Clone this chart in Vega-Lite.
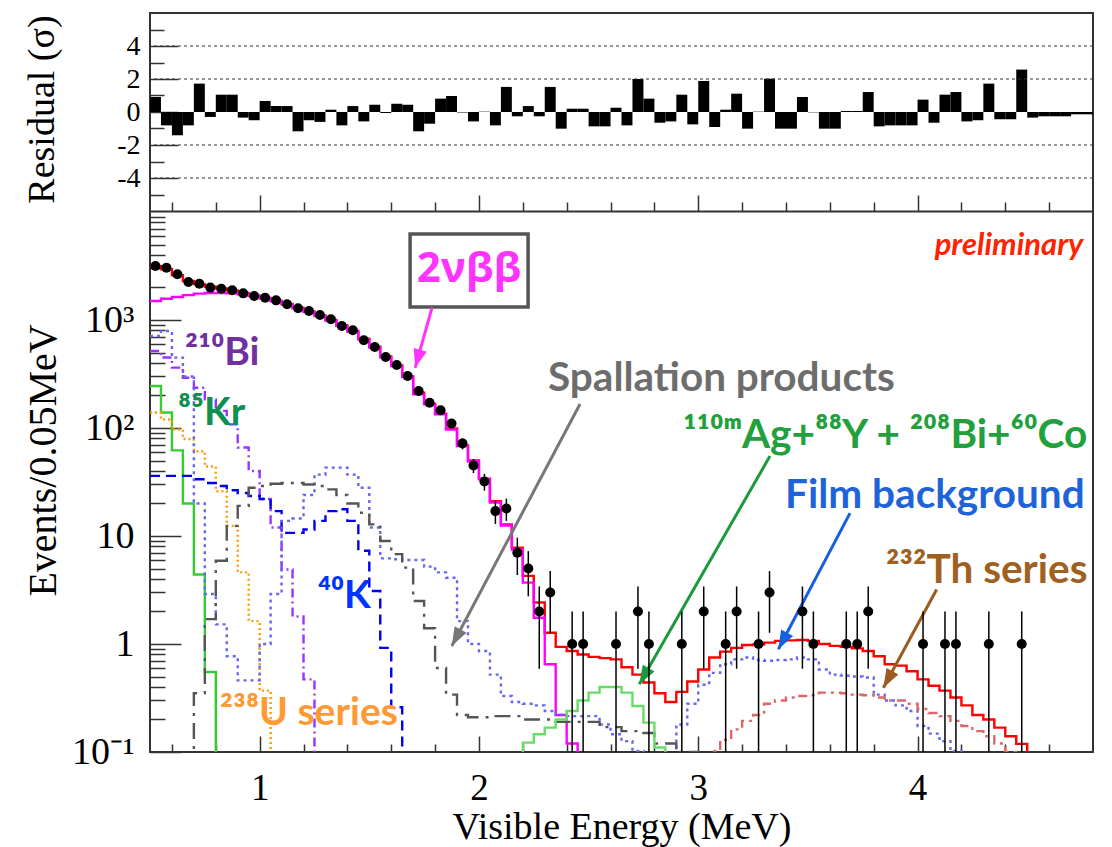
{
  "$schema": "https://vega.github.io/schema/vega-lite/v6.json",
  "width": 943,
  "height": 739,
  "autosize": {"type": "none"},
  "padding": {"left": 150, "top": 13, "right": 19, "bottom": 95},
  "background": "white",
  "config": {
    "font": "Liberation Serif",
    "view": {"stroke": "#333333", "strokeWidth": 2},
    "axis": {"labelFont": "Liberation Serif", "titleFont": "Liberation Serif", "labelColor": "black", "titleColor": "black", "titleFontWeight": "normal", "tickColor": "#333333", "tickWidth": 1.5, "grid": false}
  },
  "datasets": {
    "hist": [
      {"s":"tot","e":0.5,"v":3150},{"s":"tot","e":0.55,"v":2950},{"s":"tot","e":0.6,"v":2600},{"s":"tot","e":0.65,"v":2300},{"s":"tot","e":0.7,"v":2150},{"s":"tot","e":0.75,"v":2030},{"s":"tot","e":0.8,"v":1960},{"s":"tot","e":0.85,"v":1880},{"s":"tot","e":0.9,"v":1780},{"s":"tot","e":0.95,"v":1680},{"s":"tot","e":1.0,"v":1600},{"s":"tot","e":1.05,"v":1510},{"s":"tot","e":1.1,"v":1410},{"s":"tot","e":1.15,"v":1300},{"s":"tot","e":1.2,"v":1200},{"s":"tot","e":1.25,"v":1100},{"s":"tot","e":1.3,"v":1000},{"s":"tot","e":1.35,"v":890},{"s":"tot","e":1.4,"v":790},{"s":"tot","e":1.45,"v":670},{"s":"tot","e":1.5,"v":565},{"s":"tot","e":1.55,"v":460},{"s":"tot","e":1.6,"v":380},{"s":"tot","e":1.65,"v":300},{"s":"tot","e":1.7,"v":212},{"s":"tot","e":1.75,"v":168},{"s":"tot","e":1.8,"v":136},{"s":"tot","e":1.85,"v":99},{"s":"tot","e":1.9,"v":69},{"s":"tot","e":1.95,"v":50},{"s":"tot","e":2.0,"v":34},{"s":"tot","e":2.05,"v":21},{"s":"tot","e":2.1,"v":12.8},{"s":"tot","e":2.15,"v":7.8},{"s":"tot","e":2.2,"v":4.27},{"s":"tot","e":2.25,"v":2.42},{"s":"tot","e":2.3,"v":1.27},{"s":"tot","e":2.35,"v":0.94},{"s":"tot","e":2.4,"v":0.86},{"s":"tot","e":2.45,"v":0.8},{"s":"tot","e":2.5,"v":0.76},{"s":"tot","e":2.55,"v":0.74},{"s":"tot","e":2.6,"v":0.72},{"s":"tot","e":2.65,"v":0.61},{"s":"tot","e":2.7,"v":0.52},{"s":"tot","e":2.75,"v":0.44},{"s":"tot","e":2.8,"v":0.35},{"s":"tot","e":2.85,"v":0.29},{"s":"tot","e":2.9,"v":0.36},{"s":"tot","e":2.95,"v":0.45},{"s":"tot","e":3.0,"v":0.58},{"s":"tot","e":3.05,"v":0.75},{"s":"tot","e":3.1,"v":0.85},{"s":"tot","e":3.15,"v":0.92},{"s":"tot","e":3.2,"v":0.98},{"s":"tot","e":3.25,"v":0.99},{"s":"tot","e":3.3,"v":1.03},{"s":"tot","e":3.35,"v":1.07},{"s":"tot","e":3.4,"v":1.08},{"s":"tot","e":3.45,"v":1.09},{"s":"tot","e":3.5,"v":1.07},{"s":"tot","e":3.55,"v":1.0},{"s":"tot","e":3.6,"v":0.96},{"s":"tot","e":3.65,"v":0.94},{"s":"tot","e":3.7,"v":0.91},{"s":"tot","e":3.75,"v":0.86},{"s":"tot","e":3.8,"v":0.77},{"s":"tot","e":3.85,"v":0.65},{"s":"tot","e":3.9,"v":0.63},{"s":"tot","e":3.95,"v":0.56},{"s":"tot","e":4.0,"v":0.47},{"s":"tot","e":4.05,"v":0.41},{"s":"tot","e":4.1,"v":0.37},{"s":"tot","e":4.15,"v":0.32},{"s":"tot","e":4.2,"v":0.27},{"s":"tot","e":4.25,"v":0.22},{"s":"tot","e":4.3,"v":0.2},{"s":"tot","e":4.35,"v":0.168},{"s":"tot","e":4.4,"v":0.14},{"s":"tot","e":4.45,"v":0.119},{"s":"tot","e":4.5,"v":0.01},
      {"s":"bb","e":0.5,"v":1500},{"s":"bb","e":0.55,"v":1575},{"s":"bb","e":0.6,"v":1635},{"s":"bb","e":0.65,"v":1700},{"s":"bb","e":0.7,"v":1755},{"s":"bb","e":0.75,"v":1780},{"s":"bb","e":0.8,"v":1780},{"s":"bb","e":0.85,"v":1770},{"s":"bb","e":0.9,"v":1730},{"s":"bb","e":0.95,"v":1667},{"s":"bb","e":1.0,"v":1588},{"s":"bb","e":1.05,"v":1490},{"s":"bb","e":1.1,"v":1390},{"s":"bb","e":1.15,"v":1285},{"s":"bb","e":1.2,"v":1190},{"s":"bb","e":1.25,"v":1090},{"s":"bb","e":1.3,"v":990},{"s":"bb","e":1.35,"v":880},{"s":"bb","e":1.4,"v":780},{"s":"bb","e":1.45,"v":660},{"s":"bb","e":1.5,"v":555},{"s":"bb","e":1.55,"v":452},{"s":"bb","e":1.6,"v":374},{"s":"bb","e":1.65,"v":296},{"s":"bb","e":1.7,"v":205},{"s":"bb","e":1.75,"v":166},{"s":"bb","e":1.8,"v":134},{"s":"bb","e":1.85,"v":97},{"s":"bb","e":1.9,"v":68},{"s":"bb","e":1.95,"v":49},{"s":"bb","e":2.0,"v":33.5},{"s":"bb","e":2.05,"v":20.4},{"s":"bb","e":2.1,"v":12.5},{"s":"bb","e":2.15,"v":7.5},{"s":"bb","e":2.2,"v":3.7},{"s":"bb","e":2.25,"v":1.75},{"s":"bb","e":2.3,"v":0.65},{"s":"bb","e":2.35,"v":0.22},{"s":"bb","e":2.4,"v":0.12},{"s":"bb","e":2.45,"v":0.01},
      {"s":"bi","e":0.5,"v":517},{"s":"bi","e":0.55,"v":450},{"s":"bi","e":0.6,"v":362},{"s":"bi","e":0.65,"v":292},{"s":"bi","e":0.7,"v":236},{"s":"bi","e":0.75,"v":184},{"s":"bi","e":0.8,"v":144},{"s":"bi","e":0.85,"v":108},{"s":"bi","e":0.9,"v":66},{"s":"bi","e":0.95,"v":40},{"s":"bi","e":1.0,"v":22},{"s":"bi","e":1.05,"v":12},{"s":"bi","e":1.1,"v":4.9},{"s":"bi","e":1.15,"v":1.8},{"s":"bi","e":1.2,"v":0.47},{"s":"bi","e":1.25,"v":0.01},
      {"s":"kr","e":0.5,"v":245},{"s":"kr","e":0.55,"v":139},{"s":"kr","e":0.6,"v":62},{"s":"kr","e":0.65,"v":20},{"s":"kr","e":0.7,"v":4.4},{"s":"kr","e":0.75,"v":0.55},{"s":"kr","e":0.8,"v":0.01},
      {"s":"u","e":0.5,"v":139},{"s":"u","e":0.55,"v":120},{"s":"u","e":0.6,"v":97},{"s":"u","e":0.65,"v":79},{"s":"u","e":0.7,"v":61},{"s":"u","e":0.75,"v":44},{"s":"u","e":0.8,"v":26},{"s":"u","e":0.85,"v":12.4},{"s":"u","e":0.9,"v":4.6},{"s":"u","e":0.95,"v":1.63},{"s":"u","e":1.0,"v":0.37},{"s":"u","e":1.05,"v":0.01},
      {"s":"k40","e":0.5,"v":36},{"s":"k40","e":0.55,"v":36},{"s":"k40","e":0.6,"v":36},{"s":"k40","e":0.65,"v":36},{"s":"k40","e":0.7,"v":33.5},{"s":"k40","e":0.75,"v":31},{"s":"k40","e":0.8,"v":29},{"s":"k40","e":0.85,"v":26.5},{"s":"k40","e":0.9,"v":25},{"s":"k40","e":0.95,"v":23.5},{"s":"k40","e":1.0,"v":22},{"s":"k40","e":1.05,"v":17},{"s":"k40","e":1.1,"v":10.7},{"s":"k40","e":1.15,"v":10.7},{"s":"k40","e":1.2,"v":11.5},{"s":"k40","e":1.25,"v":13.8},{"s":"k40","e":1.3,"v":17},{"s":"k40","e":1.35,"v":17.7},{"s":"k40","e":1.4,"v":13.8},{"s":"k40","e":1.45,"v":7.3},{"s":"k40","e":1.5,"v":3.1},{"s":"k40","e":1.55,"v":0.92},{"s":"k40","e":1.6,"v":0.26},{"s":"k40","e":1.65,"v":0.01},
      {"s":"film","e":0.5,"v":711},{"s":"film","e":0.55,"v":791},{"s":"film","e":0.6,"v":448},{"s":"film","e":0.65,"v":300},{"s":"film","e":0.7,"v":20},{"s":"film","e":0.75,"v":2.9},{"s":"film","e":0.8,"v":1.52},{"s":"film","e":0.85,"v":0.77},{"s":"film","e":0.9,"v":0.46},{"s":"film","e":0.95,"v":0.46},{"s":"film","e":1.0,"v":1.0},{"s":"film","e":1.05,"v":2.9},{"s":"film","e":1.1,"v":13.8},{"s":"film","e":1.15,"v":14.5},{"s":"film","e":1.2,"v":24},{"s":"film","e":1.25,"v":37},{"s":"film","e":1.3,"v":43},{"s":"film","e":1.35,"v":43},{"s":"film","e":1.4,"v":37},{"s":"film","e":1.45,"v":28},{"s":"film","e":1.5,"v":12},{"s":"film","e":1.55,"v":6.2},{"s":"film","e":1.6,"v":6.1},{"s":"film","e":1.65,"v":6.0},{"s":"film","e":1.7,"v":6.0},{"s":"film","e":1.75,"v":5.2},{"s":"film","e":1.8,"v":4.6},{"s":"film","e":1.85,"v":4.1},{"s":"film","e":1.9,"v":1.63},{"s":"film","e":1.95,"v":1.0},{"s":"film","e":2.0,"v":0.86},{"s":"film","e":2.05,"v":0.52},{"s":"film","e":2.1,"v":0.33},{"s":"film","e":2.15,"v":0.29},{"s":"film","e":2.2,"v":0.28},{"s":"film","e":2.25,"v":0.27},{"s":"film","e":2.3,"v":0.24},{"s":"film","e":2.35,"v":0.22},{"s":"film","e":2.4,"v":0.215},{"s":"film","e":2.45,"v":0.215},{"s":"film","e":2.5,"v":0.215},{"s":"film","e":2.55,"v":0.18},{"s":"film","e":2.6,"v":0.146},{"s":"film","e":2.65,"v":0.126},{"s":"film","e":2.7,"v":0.102},{"s":"film","e":2.75,"v":0.08},{"s":"film","e":2.8,"v":0.07},{"s":"film","e":2.85,"v":0.09},{"s":"film","e":2.9,"v":0.18},{"s":"film","e":2.95,"v":0.28},{"s":"film","e":3.0,"v":0.42},{"s":"film","e":3.05,"v":0.54},{"s":"film","e":3.1,"v":0.65},{"s":"film","e":3.15,"v":0.72},{"s":"film","e":3.2,"v":0.75},{"s":"film","e":3.25,"v":0.71},{"s":"film","e":3.3,"v":0.7},{"s":"film","e":3.35,"v":0.71},{"s":"film","e":3.4,"v":0.72},{"s":"film","e":3.45,"v":0.75},{"s":"film","e":3.5,"v":0.72},{"s":"film","e":3.55,"v":0.58},{"s":"film","e":3.6,"v":0.52},{"s":"film","e":3.65,"v":0.51},{"s":"film","e":3.7,"v":0.5},{"s":"film","e":3.75,"v":0.49},{"s":"film","e":3.8,"v":0.34},{"s":"film","e":3.85,"v":0.3},{"s":"film","e":3.9,"v":0.27},{"s":"film","e":3.95,"v":0.24},{"s":"film","e":4.0,"v":0.174},{"s":"film","e":4.05,"v":0.148},{"s":"film","e":4.1,"v":0.126},{"s":"film","e":4.15,"v":0.102},{"s":"film","e":4.2,"v":0.08},{"s":"film","e":4.25,"v":0.01},
      {"s":"spall","e":0.65,"v":0.01},{"s":"spall","e":0.7,"v":0.35},{"s":"spall","e":0.75,"v":1.7},{"s":"spall","e":0.8,"v":5.9},{"s":"spall","e":0.85,"v":12.4},{"s":"spall","e":0.9,"v":19},{"s":"spall","e":0.95,"v":28},{"s":"spall","e":1.0,"v":29},{"s":"spall","e":1.05,"v":30.5},{"s":"spall","e":1.1,"v":31},{"s":"spall","e":1.15,"v":31},{"s":"spall","e":1.2,"v":30},{"s":"spall","e":1.25,"v":29},{"s":"spall","e":1.3,"v":27},{"s":"spall","e":1.35,"v":24},{"s":"spall","e":1.4,"v":20},{"s":"spall","e":1.45,"v":16.4},{"s":"spall","e":1.5,"v":12.8},{"s":"spall","e":1.55,"v":9},{"s":"spall","e":1.6,"v":6.8},{"s":"spall","e":1.65,"v":5.1},{"s":"spall","e":1.7,"v":2.5},{"s":"spall","e":1.75,"v":1.4},{"s":"spall","e":1.8,"v":0.6},{"s":"spall","e":1.85,"v":0.34},{"s":"spall","e":1.9,"v":0.22},{"s":"spall","e":1.95,"v":0.21},{"s":"spall","e":2.0,"v":0.21},{"s":"spall","e":2.05,"v":0.215},{"s":"spall","e":2.1,"v":0.215},{"s":"spall","e":2.15,"v":0.215},{"s":"spall","e":2.2,"v":0.2},{"s":"spall","e":2.25,"v":0.2},{"s":"spall","e":2.3,"v":0.2},{"s":"spall","e":2.35,"v":0.19},{"s":"spall","e":2.4,"v":0.19},{"s":"spall","e":2.45,"v":0.19},{"s":"spall","e":2.5,"v":0.19},{"s":"spall","e":2.55,"v":0.17},{"s":"spall","e":2.6,"v":0.17},{"s":"spall","e":2.65,"v":0.156},{"s":"spall","e":2.7,"v":0.156},{"s":"spall","e":2.75,"v":0.15},{"s":"spall","e":2.8,"v":0.12},{"s":"spall","e":2.85,"v":0.12},{"s":"spall","e":2.9,"v":0.1},{"s":"spall","e":2.95,"v":0.1},{"s":"spall","e":3.0,"v":0.01},
      {"s":"ag","e":2.15,"v":0.01},{"s":"ag","e":2.2,"v":0.122},{"s":"ag","e":2.25,"v":0.146},{"s":"ag","e":2.3,"v":0.168},{"s":"ag","e":2.35,"v":0.2},{"s":"ag","e":2.4,"v":0.24},{"s":"ag","e":2.45,"v":0.3},{"s":"ag","e":2.5,"v":0.355},{"s":"ag","e":2.55,"v":0.4},{"s":"ag","e":2.6,"v":0.4},{"s":"ag","e":2.65,"v":0.355},{"s":"ag","e":2.7,"v":0.267},{"s":"ag","e":2.75,"v":0.187},{"s":"ag","e":2.8,"v":0.11},{"s":"ag","e":2.85,"v":0.01},
      {"s":"th","e":3.0,"v":0.01},{"s":"th","e":3.05,"v":0.102},{"s":"th","e":3.1,"v":0.13},{"s":"th","e":3.15,"v":0.162},{"s":"th","e":3.2,"v":0.194},{"s":"th","e":3.25,"v":0.22},{"s":"th","e":3.3,"v":0.28},{"s":"th","e":3.35,"v":0.3},{"s":"th","e":3.4,"v":0.32},{"s":"th","e":3.45,"v":0.33},{"s":"th","e":3.5,"v":0.335},{"s":"th","e":3.55,"v":0.355},{"s":"th","e":3.6,"v":0.355},{"s":"th","e":3.65,"v":0.35},{"s":"th","e":3.7,"v":0.34},{"s":"th","e":3.75,"v":0.335},{"s":"th","e":3.8,"v":0.32},{"s":"th","e":3.85,"v":0.3},{"s":"th","e":3.9,"v":0.3},{"s":"th","e":3.95,"v":0.28},{"s":"th","e":4.0,"v":0.25},{"s":"th","e":4.05,"v":0.23},{"s":"th","e":4.1,"v":0.215},{"s":"th","e":4.15,"v":0.194},{"s":"th","e":4.2,"v":0.174},{"s":"th","e":4.25,"v":0.156},{"s":"th","e":4.3,"v":0.14},{"s":"th","e":4.35,"v":0.12},{"s":"th","e":4.4,"v":0.1},{"s":"th","e":4.45,"v":0.085},{"s":"th","e":4.5,"v":0.01}
    ],
    "pts": [
      {"e":0.525,"n":3160,"lo":3104,"hi":3216},{"e":0.575,"n":3050,"lo":2995,"hi":3105},{"e":0.625,"n":2650,"lo":2599,"hi":2702},{"e":0.675,"n":2250,"lo":2203,"hi":2297},{"e":0.725,"n":2170,"lo":2123,"hi":2217},{"e":0.775,"n":1995,"lo":1950,"hi":2040},{"e":0.825,"n":1950,"lo":1906,"hi":1994},{"e":0.875,"n":1885,"lo":1842,"hi":1928},{"e":0.925,"n":1765,"lo":1723,"hi":1807},{"e":0.975,"n":1667,"lo":1626,"hi":1708},
      {"e":1.025,"n":1610,"lo":1570,"hi":1650},{"e":1.075,"n":1520,"lo":1481,"hi":1559},{"e":1.125,"n":1400,"lo":1363,"hi":1437},{"e":1.175,"n":1283,"lo":1247,"hi":1319},{"e":1.225,"n":1211,"lo":1176,"hi":1246},{"e":1.275,"n":1112,"lo":1079,"hi":1145},{"e":1.325,"n":1015,"lo":983,"hi":1047},{"e":1.375,"n":880,"lo":850,"hi":910},{"e":1.425,"n":803,"lo":775,"hi":831},{"e":1.475,"n":649,"lo":624,"hi":674},
      {"e":1.525,"n":562,"lo":538,"hi":586},{"e":1.575,"n":454,"lo":433,"hi":475},{"e":1.625,"n":383,"lo":363,"hi":403},{"e":1.675,"n":303,"lo":286,"hi":320},{"e":1.725,"n":220,"lo":205,"hi":235},{"e":1.775,"n":171,"lo":158,"hi":184},{"e":1.825,"n":146,"lo":134,"hi":158},{"e":1.875,"n":110,"lo":99.5,"hi":120.5},{"e":1.925,"n":72,"lo":63.5,"hi":80.5},{"e":1.975,"n":45,"lo":38.3,"hi":51.7},
      {"e":2.025,"n":32,"lo":26.3,"hi":37.7},{"e":2.075,"n":17,"lo":12.9,"hi":21.1},{"e":2.125,"n":18,"lo":13.8,"hi":22.2},{"e":2.175,"n":7,"lo":4.35,"hi":9.65},{"e":2.225,"n":5,"lo":2.76,"hi":7.24},{"e":2.275,"n":2,"lo":0.59,"hi":3.41},{"e":2.325,"n":3,"lo":1.27,"hi":4.73},{"e":2.425,"n":1,"lo":0.001,"hi":2},{"e":2.475,"n":1,"lo":0.001,"hi":2},{"e":2.625,"n":1,"lo":0.001,"hi":2},
      {"e":2.725,"n":2,"lo":0.59,"hi":3.41},{"e":2.775,"n":1,"lo":0.001,"hi":2},{"e":2.925,"n":1,"lo":0.001,"hi":2},{"e":3.025,"n":2,"lo":0.59,"hi":3.41},{"e":3.125,"n":1,"lo":0.001,"hi":2},{"e":3.175,"n":2,"lo":0.59,"hi":3.41},{"e":3.275,"n":1,"lo":0.001,"hi":2},{"e":3.325,"n":3,"lo":1.27,"hi":4.73},{"e":3.475,"n":2,"lo":0.59,"hi":3.41},{"e":3.525,"n":1,"lo":0.001,"hi":2},
      {"e":3.675,"n":1,"lo":0.001,"hi":2},{"e":3.725,"n":1,"lo":0.001,"hi":2},{"e":3.775,"n":2,"lo":0.59,"hi":3.41},{"e":4.025,"n":1,"lo":0.001,"hi":2},{"e":4.125,"n":1,"lo":0.001,"hi":2},{"e":4.175,"n":1,"lo":0.001,"hi":2},{"e":4.325,"n":1,"lo":0.001,"hi":2},{"e":4.475,"n":1,"lo":0.001,"hi":2}
    ],
    "res": [
      {"a":0.5,"b":0.55,"r":0.91},{"a":0.55,"b":0.6,"r":-0.81},{"a":0.6,"b":0.65,"r":-1.41},{"a":0.65,"b":0.7,"r":-0.81},{"a":0.7,"b":0.75,"r":1.72},{"a":0.75,"b":0.8,"r":-0.3},{"a":0.8,"b":0.85,"r":1.05},{"a":0.85,"b":0.9,"r":1.05},{"a":0.9,"b":0.95,"r":-0.34},{"a":0.95,"b":1.0,"r":-0.5},
      {"a":1.0,"b":1.05,"r":0.67},{"a":1.05,"b":1.1,"r":0.36},{"a":1.1,"b":1.15,"r":0.36},{"a":1.15,"b":1.2,"r":-1.17},{"a":1.2,"b":1.25,"r":-0.5},{"a":1.25,"b":1.3,"r":-0.6},{"a":1.3,"b":1.35,"r":0.14},{"a":1.35,"b":1.4,"r":-0.81},{"a":1.4,"b":1.45,"r":0.36},{"a":1.45,"b":1.5,"r":-0.57},
      {"a":1.5,"b":1.55,"r":0.44},{"a":1.55,"b":1.6,"r":-0.06},{"a":1.6,"b":1.65,"r":0.5},{"a":1.65,"b":1.7,"r":0.44},{"a":1.7,"b":1.75,"r":-1.17},{"a":1.75,"b":1.8,"r":-0.71},{"a":1.8,"b":1.85,"r":0.81},{"a":1.85,"b":1.9,"r":0.97},{"a":1.9,"b":1.95,"r":-0.03},{"a":1.95,"b":2.0,"r":-0.57},
      {"a":2.0,"b":2.05,"r":0.02},{"a":2.05,"b":2.1,"r":-0.81},{"a":2.1,"b":2.15,"r":1.52},{"a":2.15,"b":2.2,"r":-0.26},{"a":2.2,"b":2.25,"r":0.36},{"a":2.25,"b":2.3,"r":-0.26},{"a":2.3,"b":2.35,"r":1.52},{"a":2.35,"b":2.4,"r":-1.01},{"a":2.4,"b":2.45,"r":0.2},{"a":2.45,"b":2.5,"r":0.2},
      {"a":2.5,"b":2.55,"r":-0.87},{"a":2.55,"b":2.6,"r":-0.87},{"a":2.6,"b":2.65,"r":0.26},{"a":2.65,"b":2.7,"r":-0.81},{"a":2.7,"b":2.75,"r":2.0},{"a":2.75,"b":2.8,"r":0.81},{"a":2.8,"b":2.85,"r":-0.65},{"a":2.85,"b":2.9,"r":-0.57},{"a":2.9,"b":2.95,"r":1.05},{"a":2.95,"b":3.0,"r":-0.75},
      {"a":3.0,"b":3.05,"r":1.88},{"a":3.05,"b":3.1,"r":-0.91},{"a":3.1,"b":3.15,"r":0.14},{"a":3.15,"b":3.2,"r":1.11},{"a":3.2,"b":3.25,"r":-1.01},{"a":3.25,"b":3.3,"r":0.02},{"a":3.3,"b":3.35,"r":2.02},{"a":3.35,"b":3.4,"r":-1.01},{"a":3.4,"b":3.45,"r":-1.01},{"a":3.45,"b":3.5,"r":0.91},
      {"a":3.5,"b":3.55,"r":-0.02},{"a":3.55,"b":3.6,"r":-1.01},{"a":3.6,"b":3.65,"r":-1.01},{"a":3.65,"b":3.7,"r":0.06},{"a":3.7,"b":3.75,"r":0.06},{"a":3.75,"b":3.8,"r":1.21},{"a":3.8,"b":3.85,"r":-0.87},{"a":3.85,"b":3.9,"r":-0.81},{"a":3.9,"b":3.95,"r":-0.81},{"a":3.95,"b":4.0,"r":-0.81},
      {"a":4.0,"b":4.05,"r":0.75},{"a":4.05,"b":4.1,"r":-0.65},{"a":4.1,"b":4.15,"r":1.05},{"a":4.15,"b":4.2,"r":1.21},{"a":4.2,"b":4.25,"r":-0.57},{"a":4.25,"b":4.3,"r":-0.5},{"a":4.3,"b":4.35,"r":1.72},{"a":4.35,"b":4.4,"r":-0.44},{"a":4.4,"b":4.45,"r":-0.44},{"a":4.45,"b":4.5,"r":2.57},
      {"a":4.5,"b":4.55,"r":-0.34},{"a":4.55,"b":4.6,"r":-0.26},{"a":4.6,"b":4.65,"r":-0.26},{"a":4.65,"b":4.7,"r":-0.26},{"a":4.7,"b":4.75,"r":-0.14},{"a":4.75,"b":4.8,"r":-0.14}
    ],
    "grid": [{"g":-4},{"g":-2},{"g":2},{"g":4}],
    "lab": [
      {"k":"pre","t":"preliminary","x":4.756,"y":4845},
      {"k":"bb","t":"2νββ","x":1.955,"y":2966},
      {"k":"bi","t":"²¹⁰Bi","x":0.66,"y":495},
      {"k":"kr","t":"⁸⁵Kr","x":0.628,"y":138},
      {"k":"k40","t":"⁴⁰K","x":1.266,"y":2.78},
      {"k":"u","t":"²³⁸U series","x":0.819,"y":0.23},
      {"k":"spall","t":"Spallation products","x":2.315,"y":284},
      {"k":"ag","t":"¹¹⁰ᵐAg+⁸⁸Y + ²⁰⁸Bi+⁶⁰Co","x":2.93,"y":84.3},
      {"k":"film","t":"Film background","x":3.396,"y":23.5},
      {"k":"th","t":"²³²Th series","x":3.856,"y":4.74}
    ],
    "arr": [
      {"k":"bb","x1":1.786,"y1":1300,"x2":1.709,"y2":361},
      {"k":"spall","x1":2.461,"y1":167,"x2":1.876,"y2":0.957},
      {"k":"ag","x1":3.327,"y1":55,"x2":2.731,"y2":0.424},
      {"k":"film","x1":3.692,"y1":16.3,"x2":3.365,"y2":0.893},
      {"k":"th","x1":4.087,"y1":3.2,"x2":3.844,"y2":0.394}
    ],
    "box": [{"x1":1.686,"x2":2.224,"y1":1318,"y2":6250}]
  },
  "layer": [
    {
      "layer": [
        {
          "data": {"name": "res"},
          "mark": {"type": "bar", "color": "black", "opacity": 1},
          "encoding": {
            "x": {"field": "a", "type": "quantitative", "scale": {"domain": [0.5, 4.8], "nice": false, "zero": false},
              "axis": {"orient": "top", "offset": -198, "values": [0.6,0.8,1,1.2,1.4,1.6,1.8,2,2.2,2.4,2.6,2.8,3,3.2,3.4,3.6,3.8,4,4.2,4.4,4.6], "labels": false, "title": null, "domain": true, "domainColor": "#333333", "domainWidth": 2, "ticks": true, "tickSize": {"condition": {"test": "datum.value % 1 == 0", "value": 16}, "value": 9}}},
            "x2": {"field": "b"},
            "y": {"field": "r", "type": "quantitative", "scale": {"domain": [-6, 6], "range": [198, 0], "nice": false, "zero": false},
              "axis": {"orient": "left", "values": [-4,-2,0,2,4], "labelExpr": "'' + datum.value", "ticks": false, "domain": false, "labelFontSize": 28, "labelPadding": 10, "title": "Residual (σ)", "titleFontSize": 38, "titleX": -108, "titleY": 96, "titleAngle": -90, "titleBaseline": "middle", "titleAlign": "center"}},
            "y2": {"datum": 0}
          }
        },
        {
          "mark": {"type": "rule", "color": "black", "strokeWidth": 1.5},
          "encoding": {"y": {"datum": 0, "type": "quantitative"}}
        }
      ]
    },
    {
      "layer": [
        {
          "data": {"name": "grid"},
          "mark": {"type": "rule", "color": "#333333", "strokeWidth": 1, "strokeDash": [3, 3]},
          "encoding": {
            "y": {"field": "g", "type": "quantitative", "scale": {"domain": [-6, 6], "range": [198, 0], "nice": false, "zero": false},
              "axis": {"orient": "right", "offset": -943, "values": [-5,-4,-3,-2,-1,0,1,2,3,4,5], "labels": false, "title": null, "domain": false, "ticks": true, "tickSize": {"condition": {"test": "datum.value % 2 == 0", "value": 28}, "value": 14}}}
          }
        }
      ]
    },
    {
      "layer": [
        {
          "data": {"name": "hist"},
          "mark": {"type": "line", "interpolate": "step-after", "clip": true, "strokeWidth": 2.4},
          "encoding": {
            "x": {"field": "e", "type": "quantitative", "scale": {"domain": [0.5, 4.8], "nice": false, "zero": false},
              "axis": {"orient": "bottom", "values": [1,2,3,4], "format": "d", "ticks": false, "domain": false, "labelFontSize": 37, "labelPadding": 18, "labelFlush": false, "title": "Visible Energy (MeV)", "titleFontSize": 38, "titleY": 86, "titleBaseline": "alphabetic"}},
            "y": {"field": "v", "type": "quantitative", "scale": {"type": "log", "domain": [0.1, 10000], "range": [739, 199], "nice": false},
              "axis": {"orient": "left", "values": [0.1,1,10,100,1000], "labelExpr": "datum.value == 0.1 ? '10⁻¹' : datum.value == 1 ? '1' : datum.value == 10 ? '10' : datum.value == 100 ? '10²' : '10³'", "ticks": false, "domain": false, "labelFontSize": 38, "labelPadding": 16, "labelOverlap": false, "labelFlush": false, "title": "Events/0.05MeV", "titleFontSize": 40, "titleX": -107, "titleY": 447, "titleAngle": -90, "titleBaseline": "middle", "titleAlign": "center"}},
            "stroke": {"field": "s", "type": "nominal", "legend": null,
              "scale": {"domain": ["tot","bb","bi","kr","u","k40","film","spall","ag","th"], "range": ["#ff0000","#ff00ff","#9933ff","#33cc33","#ff9900","#0000ee","#6666ee","#555555","#66dd66","#dd6666"]}},
            "strokeDash": {"field": "s", "type": "nominal", "legend": null,
              "scale": {"domain": ["tot","bb","bi","kr","u","k40","film","spall","ag","th"], "range": [[1,0],[1,0],[9,4,2,4],[1,0],[2,3],[10,6],[3,4],[16,7,3,7],[1,0],[9,5,3,5]]}}
          }
        },
        {
          "data": {"name": "box"},
          "mark": {"type": "rect", "fill": "white", "stroke": "#555555", "strokeWidth": 3.5},
          "encoding": {
            "x": {"field": "x1", "type": "quantitative"}, "x2": {"field": "x2"},
            "y": {"field": "y1", "type": "quantitative"}, "y2": {"field": "y2"}
          }
        },
        {
          "data": {"name": "arr"},
          "mark": {"type": "rule", "strokeWidth": 3},
          "encoding": {
            "x": {"field": "x1", "type": "quantitative"}, "x2": {"field": "x2"},
            "y": {"field": "y1", "type": "quantitative"}, "y2": {"field": "y2"},
            "stroke": {"field": "k", "type": "nominal", "legend": null,
              "scale": {"domain": ["bb","spall","ag","film","th"], "range": ["#ff33ff","#777777","#1a9a3a","#1560e0","#9c5a1e"]}}
          }
        },
        {"data": {"name": "arr"}, "transform": [{"filter": "datum.k == 'bb'"}],
          "mark": {"type": "point", "shape": "M0,0L-0.45,1.25L0.45,1.25Z", "size": 900, "filled": true, "color": "#ff33ff", "opacity": 1, "angle": 196, "strokeWidth": 0},
          "encoding": {"x": {"field": "x2", "type": "quantitative"}, "y": {"field": "y2", "type": "quantitative"}}},
        {"data": {"name": "arr"}, "transform": [{"filter": "datum.k == 'spall'"}],
          "mark": {"type": "point", "shape": "M0,0L-0.45,1.25L0.45,1.25Z", "size": 900, "filled": true, "color": "#777777", "opacity": 1, "angle": 208, "strokeWidth": 0},
          "encoding": {"x": {"field": "x2", "type": "quantitative"}, "y": {"field": "y2", "type": "quantitative"}}},
        {"data": {"name": "arr"}, "transform": [{"filter": "datum.k == 'ag'"}],
          "mark": {"type": "point", "shape": "M0,0L-0.45,1.25L0.45,1.25Z", "size": 900, "filled": true, "color": "#1a9a3a", "opacity": 1, "angle": 210, "strokeWidth": 0},
          "encoding": {"x": {"field": "x2", "type": "quantitative"}, "y": {"field": "y2", "type": "quantitative"}}},
        {"data": {"name": "arr"}, "transform": [{"filter": "datum.k == 'film'"}],
          "mark": {"type": "point", "shape": "M0,0L-0.45,1.25L0.45,1.25Z", "size": 900, "filled": true, "color": "#1560e0", "opacity": 1, "angle": 208, "strokeWidth": 0},
          "encoding": {"x": {"field": "x2", "type": "quantitative"}, "y": {"field": "y2", "type": "quantitative"}}},
        {"data": {"name": "arr"}, "transform": [{"filter": "datum.k == 'th'"}],
          "mark": {"type": "point", "shape": "M0,0L-0.45,1.25L0.45,1.25Z", "size": 900, "filled": true, "color": "#9c5a1e", "opacity": 1, "angle": 209, "strokeWidth": 0},
          "encoding": {"x": {"field": "x2", "type": "quantitative"}, "y": {"field": "y2", "type": "quantitative"}}},
        {
          "data": {"name": "lab"},
          "transform": [{"filter": {"field": "k", "oneOf": ["spall","ag","film","th"]}}],
          "mark": {"type": "text", "font": "Lato", "fontWeight": "bold", "fontSize": 40.5, "align": "left", "baseline": "middle"},
          "encoding": {
            "x": {"field": "x", "type": "quantitative"},
            "y": {"field": "y", "type": "quantitative"},
            "text": {"field": "t"},
            "color": {"field": "k", "type": "nominal", "legend": null,
              "scale": {"domain": ["spall","ag","film","th"], "range": ["#6d6d6d","#21a03c","#1e64d8","#a0601e"]}}
          }
        },
        {
          "data": {"name": "lab"},
          "transform": [{"filter": {"field": "k", "oneOf": ["bi","kr","k40","u"]}}],
          "mark": {"type": "text", "font": "Lato", "fontWeight": "bold", "fontSize": 39, "align": "left", "baseline": "middle"},
          "encoding": {
            "x": {"field": "x", "type": "quantitative"},
            "y": {"field": "y", "type": "quantitative"},
            "text": {"field": "t"},
            "color": {"field": "k", "type": "nominal", "legend": null,
              "scale": {"domain": ["bi","kr","k40","u"], "range": ["#7030a0","#109050","#0033ff","#ff9933"]}}
          }
        },
        {
          "data": {"name": "lab"},
          "transform": [{"filter": "datum.k == 'bb'"}],
          "mark": {"type": "text", "font": "Open Sans", "fontWeight": "bold", "fontSize": 42, "align": "center", "baseline": "middle", "color": "#ff33ff"},
          "encoding": {"x": {"field": "x", "type": "quantitative"}, "y": {"field": "y", "type": "quantitative"}, "text": {"field": "t"}}
        },
        {
          "data": {"name": "lab"},
          "transform": [{"filter": "datum.k == 'pre'"}],
          "mark": {"type": "text", "font": "Lato", "fontWeight": "bold", "fontStyle": "italic", "fontSize": 31, "align": "right", "baseline": "middle", "color": "#ff2200"},
          "encoding": {"x": {"field": "x", "type": "quantitative"}, "y": {"field": "y", "type": "quantitative"}, "text": {"field": "t"}}
        }
      ],
      "resolve": {"scale": {"stroke": "independent", "color": "independent", "strokeDash": "independent"}}
    },
    {
      "layer": [
        {
          "data": {"name": "pts"},
          "mark": {"type": "rule", "clip": true, "color": "black", "strokeWidth": 1.5},
          "encoding": {
            "x": {"field": "e", "type": "quantitative", "scale": {"domain": [0.5, 4.8], "nice": false, "zero": false},
              "axis": {"orient": "top", "offset": -739, "values": [0.6,0.8,1,1.2,1.4,1.6,1.8,2,2.2,2.4,2.6,2.8,3,3.2,3.4,3.6,3.8,4,4.2,4.4,4.6], "labels": false, "title": null, "domain": false, "ticks": true, "tickSize": {"condition": {"test": "datum.value % 1 == 0", "value": 16}, "value": 8}}},
            "y": {"field": "lo", "type": "quantitative", "scale": {"type": "log", "domain": [0.1, 10000], "range": [739, 199], "nice": false},
              "axis": {"orient": "right", "offset": -943, "values": [0.1,0.2,0.3,0.4,0.5,0.6,0.7,0.8,0.9,1,2,3,4,5,6,7,8,9,10,20,30,40,50,60,70,80,90,100,200,300,400,500,600,700,800,900,1000,2000,3000,4000,5000,6000,7000,8000,9000], "labels": false, "title": null, "domain": false, "ticks": true, "tickSize": {"condition": {"test": "datum.value == 0.1 || datum.value == 1 || datum.value == 10 || datum.value == 100 || datum.value == 1000", "value": 31}, "value": 15}}},
            "y2": {"field": "hi"}
          }
        },
        {
          "data": {"name": "pts"},
          "mark": {"type": "circle", "color": "black", "size": 100, "opacity": 1},
          "encoding": {
            "x": {"field": "e", "type": "quantitative"},
            "y": {"field": "n", "type": "quantitative"}
          }
        }
      ]
    }
  ],
  "resolve": {"scale": {"x": "independent", "y": "independent"}}
}
